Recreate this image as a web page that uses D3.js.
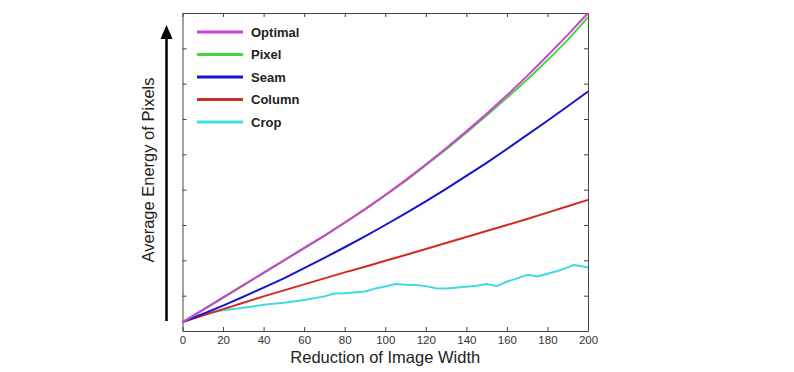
<!DOCTYPE html>
<html>
<head>
<meta charset="utf-8">
<style>
  body { margin: 0; background: white; }
  svg { font-family: "Liberation Sans", Arial, sans-serif; }
</style>
</head>
<body>
<script src="https://cdn.jsdelivr.net/npm/d3@7"></script>
<script>
  // reduction of width, step 10
  const widths = [0, 10, 20, 30, 40, 50, 60, 70, 80, 90, 100, 110, 120, 130, 140, 150, 160, 170, 180, 190, 200];
  const optimal = [0.25, 0.60, 0.95, 1.30, 1.65, 2.00, 2.35, 2.70, 3.07, 3.45, 3.85, 4.27, 4.71, 5.17, 5.65, 6.15, 6.67, 7.22, 7.79, 8.38, 9.00];
  const pixel   = [0.25, 0.59, 0.94, 1.29, 1.64, 1.99, 2.34, 2.69, 3.06, 3.44, 3.84, 4.25, 4.69, 5.14, 5.61, 6.10, 6.60, 7.12, 7.66, 8.24, 8.88];
  const seam    = [0.25, 0.48, 0.72, 0.97, 1.23, 1.49, 1.78, 2.07, 2.37, 2.68, 3.00, 3.33, 3.67, 4.02, 4.39, 4.76, 5.15, 5.55, 5.95, 6.36, 6.78];
  const column  = [0.25, 0.44, 0.62, 0.80, 0.98, 1.15, 1.32, 1.49, 1.66, 1.82, 1.99, 2.15, 2.32, 2.49, 2.66, 2.83, 3.00, 3.17, 3.35, 3.53, 3.71];
  // crop is noisier, read at finer steps
  const cropX = [0, 5, 10, 20, 30, 40, 50, 60, 70, 75, 80, 90, 95, 100, 105, 110, 115, 120, 125, 130, 140, 145, 150, 155, 160, 165, 170, 175, 180, 185, 190, 193, 197, 200];
  const crop  = [0.25, 0.38, 0.47, 0.59, 0.66, 0.74, 0.80, 0.88, 0.98, 1.06, 1.07, 1.12, 1.20, 1.26, 1.33, 1.31, 1.30, 1.27, 1.21, 1.20, 1.25, 1.28, 1.33, 1.27, 1.40, 1.49, 1.59, 1.54, 1.62, 1.70, 1.80, 1.87, 1.83, 1.80];

  const names = ['Optimal', 'Pixel', 'Seam', 'Column', 'Crop'];
  const colors = ['#d23fd2', '#3fd83f', '#1414d2', '#d22a22', '#3fdbe0'];
  const xTicks = [0, 20, 40, 60, 80, 100, 120, 140, 160, 180, 200];
  const yTicks = [1, 2, 3, 4, 5, 6, 7, 8];

  const w = 794, h = 372;
  const l = 182.5, r = 588, t = 13, b = 331;

  const svg = d3.select('body').append('svg')
    .attr('width', w)
    .attr('height', h);

  const x = d3.scaleLinear().domain([0, 200]).range([l, r]);
  const y = d3.scaleLinear().domain([0, 9]).range([b, t]);

  // box with inward ticks on all sides
  const tick = 4;
  svg.append('g')
    .attr('transform', `translate(0, ${b})`)
    .call(d3.axisBottom(x).tickValues(xTicks).tickSizeInner(-tick).tickSizeOuter(0).tickPadding(5))
    .call(g => g.selectAll('text').attr('font-size', 11.5).attr('fill', '#333').attr('font-family', null));
  svg.append('g')
    .attr('transform', `translate(0, ${t})`)
    .call(d3.axisTop(x).tickValues(xTicks).tickSizeInner(-tick).tickSizeOuter(0).tickFormat(''));
  svg.append('g')
    .attr('transform', `translate(${l}, 0)`)
    .call(d3.axisLeft(y).tickValues(yTicks).tickSizeInner(-tick).tickSizeOuter(0).tickFormat(''));
  svg.append('g')
    .attr('transform', `translate(${r}, 0)`)
    .call(d3.axisRight(y).tickValues(yTicks).tickSizeInner(-tick).tickSizeOuter(0).tickFormat(''));
  svg.selectAll('.domain, .tick line').attr('stroke', '#444');

  const line = d3.line().x(d => x(d[0])).y(d => y(d[1]));
  const series = [
    { name: 'Crop', xs: cropX, ys: crop, c: colors[4] },
    { name: 'Column', xs: widths, ys: column, c: colors[3] },
    { name: 'Seam', xs: widths, ys: seam, c: colors[2] },
    { name: 'Pixel', xs: widths, ys: pixel, c: colors[1] },
    { name: 'Optimal', xs: widths, ys: optimal, c: colors[0] },
  ];
  svg.append('g').selectAll('path')
    .data(series)
    .join('path')
      .attr('fill', 'none')
      .attr('stroke', d => d.c)
      .attr('stroke-width', 2)
      .attr('stroke-linejoin', 'round')
      .attr('d', d => line(d.xs.map((v, i) => [v, d.ys[i]])));

  // legend
  const leg = svg.append('g').attr('transform', 'translate(197, 32)');
  const rows = leg.selectAll('g')
    .data(names)
    .join('g')
      .attr('transform', (d, i) => `translate(0, ${i * 22.5})`);
  rows.append('line')
    .attr('x1', 0).attr('x2', 46)
    .attr('stroke', (d, i) => colors[i])
    .attr('stroke-width', 3);
  rows.append('text')
    .attr('x', 54)
    .attr('dy', '0.36em')
    .attr('font-size', 13)
    .attr('font-weight', 'bold')
    .attr('fill', '#222')
    .text(d => d);

  // x title
  svg.append('text')
    .attr('x', (l + r) / 2)
    .attr('y', 363)
    .attr('text-anchor', 'middle')
    .attr('font-size', 16.5)
    .attr('fill', '#222')
    .text('Reduction of Image Width');

  // y title with arrow
  svg.append('text')
    .attr('transform', 'translate(153.5, 170) rotate(-90)')
    .attr('text-anchor', 'middle')
    .attr('font-size', 16.5)
    .attr('fill', '#222')
    .text('Average Energy of Pixels');

  svg.append('line')
    .attr('x1', 166.5).attr('x2', 166.5)
    .attr('y1', 321).attr('y2', 36)
    .attr('stroke', 'black')
    .attr('stroke-width', 2.5);
  svg.append('path')
    .attr('d', d3.line()([[160.5, 39], [166.5, 25], [172.5, 39]]) + 'Z')
    .attr('fill', 'black');
</script>
</body>
</html>
